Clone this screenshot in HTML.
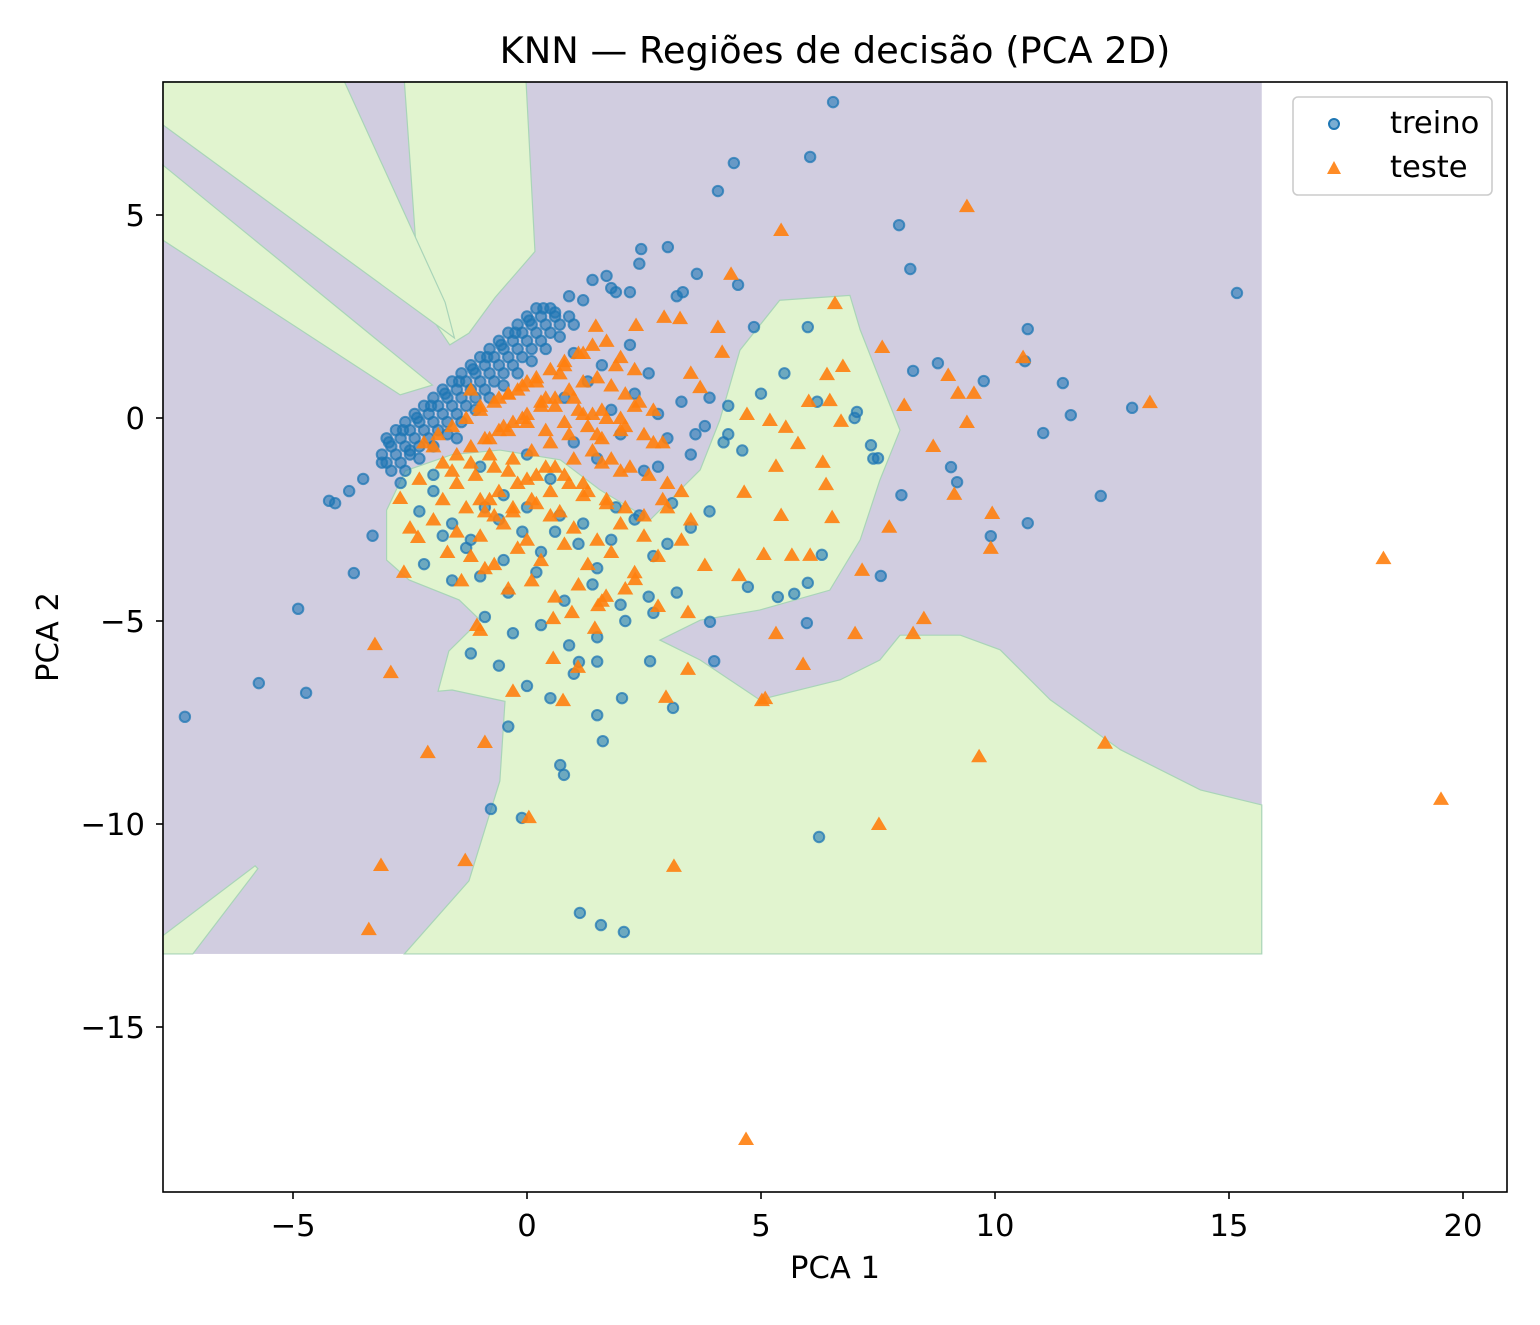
<!DOCTYPE html>
<html><head><meta charset="utf-8"><style>
body{margin:0;background:#fff;}
svg text{font-family:"DejaVu Sans","Liberation Sans",sans-serif;fill:#000;}
</style></head><body>
<svg id="chart" width="1540" height="1320" viewBox="0 0 1540 1320" xmlns="http://www.w3.org/2000/svg">
<rect x="0" y="0" width="1540" height="1320" fill="#fff"/>
<text x="835" y="63" style="font-size:36.8px" text-anchor="middle">KNN — Regiões de decisão (PCA 2D)</text>
<g id="regions"></g>
<g id="ptsTrain"></g>
<g id="ptsTest"></g>
<rect x="163" y="82" width="1344" height="1110" fill="none" stroke="#000" stroke-width="1.6"/>
<g id="xticks"></g>
<g id="yticks"></g>
<text x="835" y="1278" style="font-size:30.6px" text-anchor="middle">PCA 1</text>
<text x="58" y="637" style="font-size:30.6px" text-anchor="middle" transform="rotate(-90 58 637)">PCA 2</text>
<g>
<rect x="1293" y="97" width="199" height="98" rx="5" fill="#fff" fill-opacity="0.85" stroke="#ccc" stroke-width="1.6"/>
<g>
<circle cx="1334" cy="124" r="5" fill="#1f77b4" fill-opacity="0.6" stroke="#1f77b4" stroke-width="2"/>
<text x="1390" y="133" style="font-size:30.6px">treino</text></g>
<g>
<polygon points="1334,161 1341,174 1327,174" fill="#ff7f0e" fill-opacity="0.9"/>
<text x="1390" y="177" style="font-size:30.6px">teste</text></g>
</g>
</svg>
<script>
const xTicks=[-5,0,5,10,15,20];
const yTicks=[5,0,-5,-10,-15];
const gridX=[-7.78,15.7];
const gridY=[-13.2,8.28];
const greenRegions=[
[[-2.62,8.28],[-0.02,8.28],[0.17,4.1],[-0.68,2.97],[-1.24,2.09],[-1.65,1.8],[-2.29,2.9]],
[[-7.78,8.28],[-3.9,8.28],[-1.75,2.85],[-1.55,1.97],[-7.78,7.22]],
[[-7.78,6.23],[-2.02,0.81],[-2.71,0.57],[-7.78,4.38]],
[[-2.62,-13.2],[-1.24,-11.4],[-0.58,-8.94],[-0.47,-6.98],[-1.6,-6.7],[-1.9,-6.73],[-1.67,-5.74],[-1.0,-4.98],[-1.45,-4.48],[-2.52,-3.99],[-3.0,-3.5],[-3.0,-2.27],[-2.6,-1.3],[-1.6,-0.9],[-0.58,-0.79],[0.71,-1.03],[1.56,-1.77],[2.63,-2.51],[3.7,-1.28],[4.12,-0.05],[4.55,1.67],[5.4,2.9],[6.9,3.02],[7.12,2.17],[7.54,0.94],[7.97,-0.3],[7.54,-1.53],[7.12,-3.0],[6.47,-4.24],[4.97,-4.73],[3.7,-4.98],[2.84,-5.47],[3.7,-5.96],[4.97,-6.94],[6.69,-6.45],[7.54,-5.96],[7.97,-5.35],[9.26,-5.35],[10.11,-5.71],[11.18,-6.94],[12.68,-8.17],[14.39,-9.16],[15.7,-9.53],[15.7,-13.2]],
[[-7.78,-13.2],[-7.78,-12.75],[-5.81,-11.03],[-5.75,-11.1],[-7.14,-13.2]]
];
const trainX=[6.54,4.42,4.08,6.05,7.95,8.19,15.17,10.7,10.64,8.25,8.78,9.76,11.45,11.62,12.93,11.03,12.26,10.7,9.91,9.06,9.19,7.56,7.5,-4.89,-5.73,-4.72,-7.31,-3.7,-4.23,6.24,1.13,1.58,2.07,-0.77,-0.11,0.71,0.79,1.62,1.5,3.12,2.03,1.11,2.63,5.98,6.0,6.3,5.71,5.36,4.72,4.0,3.91,7.35,7.05,6.0,4.85,3.63,3.01,2.44,4.51,3.33,
-3.0,-2.8,-2.6,-2.4,-2.2,-2.0,-1.8,-1.6,-1.4,-1.2,-1.0,-0.8,-0.6,-0.4,-0.2,0.0,0.2,
-3.1,-2.9,-2.7,-2.5,-2.3,-2.1,-1.9,-1.7,-1.5,-1.3,-1.1,-0.9,-0.7,-0.5,-0.3,-0.1,0.1,0.3,0.5,
-3.0,-2.8,-2.6,-2.4,-2.2,-2.0,-1.8,-1.6,-1.4,-1.2,-1.0,-0.8,-0.6,-0.4,-0.2,0.0,0.2,0.4,0.6,
-2.9,-2.7,-2.5,-2.3,-2.1,-1.9,-1.7,-1.5,-1.3,-1.1,-0.9,-0.7,-0.5,-0.3,-0.1,0.1,0.3,0.5,0.7,0.9,
-2.6,-2.3,-2.0,-1.7,-1.4,-1.1,-0.8,-0.5,-0.2,0.1,0.4,0.7,1.0,
-2.95,-2.65,-2.35,-2.05,-1.75,-1.45,-1.15,-0.85,-0.55,-0.25,0.05,0.35,
-3.5,-3.8,-4.1,-3.3,-3.1,-2.7,-2.3,-2.0,-1.6,-1.3,-0.9,-0.5,-0.1,0.3,0.7,1.1,1.5,1.9,2.3,2.7,3.1,3.5,3.9,-2.5,-2.0,-1.5,-1.0,-0.5,0.0,0.5,1.0,1.5,2.0,2.5,3.0,3.5,-2.2,-1.6,-1.0,-0.4,0.2,0.8,1.4,2.0,2.6,3.2,-1.8,-1.2,-0.6,0.0,0.6,1.2,1.8,2.4,3.0,-0.9,-0.3,0.3,0.9,1.5,2.1,2.7,0.8,1.3,1.8,2.3,2.8,3.3,3.8,4.3,1.0,1.6,2.2,2.6,0.6,1.2,1.9,-0.6,0.0,0.5,1.0,1.5,-1.2,-0.4,2.8,3.6,4.2,4.6,5.0,5.5,6.2,7.0,7.4,8.0,1.4,1.8,2.2,0.9,1.7,2.4,3.2,3.9,4.3];
const trainY=[7.78,6.28,5.59,6.43,4.75,3.67,3.08,2.19,1.4,1.16,1.35,0.91,0.86,0.07,0.25,-0.37,-1.92,-2.59,-2.91,-1.21,-1.58,-3.89,-0.99,-4.7,-6.53,-6.77,-7.36,-3.82,-2.04,-10.32,-12.19,-12.49,-12.66,-9.63,-9.85,-8.55,-8.79,-7.96,-7.32,-7.14,-6.9,-6.01,-5.99,-5.05,-4.06,-3.37,-4.33,-4.41,-4.16,-5.99,-5.02,-0.67,0.15,2.24,2.24,3.55,4.21,4.16,3.28,3.1,
-0.5,-0.3,-0.1,0.1,0.3,0.5,0.7,0.9,1.1,1.3,1.5,1.7,1.9,2.1,2.3,2.5,2.7,
-0.9,-0.7,-0.5,-0.3,-0.1,0.1,0.3,0.5,0.7,0.9,1.1,1.3,1.5,1.7,1.9,2.1,2.3,2.5,2.7,
-1.1,-0.9,-0.7,-0.5,-0.3,-0.1,0.1,0.3,0.5,0.7,0.9,1.1,1.3,1.5,1.7,1.9,2.1,2.3,2.5,
-1.3,-1.1,-0.9,-0.7,-0.5,-0.3,-0.1,0.1,0.3,0.5,0.7,0.9,1.1,1.3,1.5,1.7,1.9,2.1,2.3,2.5,
-1.3,-1.0,-0.7,-0.4,-0.1,0.2,0.5,0.8,1.1,1.4,1.7,2.0,2.3,
-0.6,-0.3,0.0,0.3,0.6,0.9,1.2,1.5,1.8,2.1,2.4,2.7,
-1.5,-1.8,-2.1,-2.9,-1.1,-1.6,-2.3,-1.4,-2.6,-3.2,-2.2,-3.5,-2.8,-3.3,-2.4,-3.1,-3.7,-2.2,-2.5,-3.4,-2.1,-2.7,-2.3,-0.8,-1.8,-0.5,-1.2,-1.9,-0.9,-1.5,-0.6,-1.0,-0.4,-1.3,-0.5,-0.9,-3.6,-4.0,-3.9,-4.3,-3.8,-4.5,-4.1,-4.6,-4.4,-4.3,-2.9,-3.0,-2.5,-2.2,-2.8,-2.6,-3.0,-2.4,-3.1,-4.9,-5.3,-5.1,-5.6,-5.4,-5.0,-4.8,0.5,0.9,0.2,0.6,0.1,0.4,-0.2,0.3,1.6,1.3,1.8,1.1,2.6,2.9,3.1,-6.1,-6.6,-6.9,-6.3,-6.0,-5.8,-7.6,-1.2,-0.4,-0.6,-0.8,0.6,1.1,0.4,0.0,-1.0,-1.9,3.4,3.2,3.1,3.0,3.5,3.8,3.0,0.5,-0.4];
const testX=[9.4,5.43,4.36,6.58,4.08,7.59,10.6,9.0,9.21,9.55,13.31,8.06,9.4,8.68,9.13,9.94,9.91,7.74,7.16,18.3,19.53,8.48,8.25,7.01,5.9,5.32,5.09,9.66,12.35,7.52,3.14,4.68,-3.38,-3.12,-1.32,-2.12,-0.9,-3.25,-2.91,0.04,-0.3,0.77,3.44,2.97,5.02,6.71,6.47,6.41,6.75,6.02,5.53,5.79,5.32,6.32,6.39,6.52,5.43,4.64,4.7,5.19,3.5,4.17,3.7,3.27,2.93,1.47,2.33,5.66,5.06,4.53,6.05,3.8,3.44,2.8,2.31,1.52,1.45,1.69,0.96,0.56,-1.07,-1.0,-2.71,-2.33,-2.63,1.09,0.56,
-2.2,-1.9,-1.6,-1.3,-1.0,-0.7,-0.4,-0.1,0.2,0.5,0.8,1.1,1.4,1.7,2.0,2.3,-1.8,-1.5,-1.2,-0.9,-0.6,-0.3,0.0,0.3,0.6,0.9,1.2,1.5,1.8,2.1,2.4,2.7,-1.5,-1.1,-0.7,-0.3,0.1,0.5,0.9,1.3,1.7,2.1,2.5,2.9,-1.0,-0.6,-0.2,0.2,0.6,1.0,1.4,1.8,2.2,2.6,3.0,-0.7,-0.3,0.1,0.5,0.9,1.3,1.7,2.1,2.5,2.9,3.3,-0.4,0.0,0.4,0.8,1.2,1.6,2.0,-2.5,-2.0,-1.5,-1.0,-0.5,0.0,0.5,1.0,1.5,2.0,2.5,3.0,3.5,-1.7,-1.2,-0.7,-0.2,0.3,0.8,1.3,1.8,2.3,2.8,3.3,-0.9,-0.4,0.1,0.6,1.1,1.6,2.1,
-1.4,-1.0,-0.6,-0.2,0.2,0.6,1.0,1.4,-1.2,-0.8,-0.4,0.0,0.4,0.8,1.2,1.6,2.0,-2.0,-1.6,-1.2,-0.8,-0.4,0.0,0.4,0.8,1.2,1.6,2.0,-2.3,-1.8,-1.3,-0.8,-0.3,0.2,0.7,1.2,1.7,-0.9,-0.5,-0.1,0.3,0.7,1.1,1.5,1.9,2.3,2.7];
const testY=[5.22,4.63,3.55,2.83,2.24,1.75,1.5,1.06,0.62,0.62,0.39,0.32,-0.1,-0.69,-1.87,-2.34,-3.2,-2.68,-3.74,-3.45,-9.38,-4.93,-5.3,-5.3,-6.06,-5.3,-6.9,-8.33,-8.0,-10.0,-11.03,-17.76,-12.59,-11.01,-10.89,-8.23,-7.98,-5.57,-6.26,-9.83,-6.72,-6.95,-6.18,-6.87,-6.95,-0.07,0.44,1.08,1.28,0.42,-0.22,-0.62,-1.18,-1.08,-1.63,-2.44,-2.39,-1.82,0.1,-0.05,1.11,1.63,0.76,2.46,2.49,2.27,2.29,-3.37,-3.35,-3.87,-3.37,-3.62,-4.78,-4.63,-3.97,-4.61,-5.17,-4.38,-4.78,-4.93,-5.1,-5.22,-1.97,-2.93,-3.79,-6.13,-5.91,
-0.6,-0.4,-0.2,0.0,0.2,0.4,0.6,0.8,1.0,1.2,1.4,1.6,1.8,1.9,1.5,1.2,-1.1,-0.9,-0.7,-0.5,-0.3,-0.1,0.1,0.3,0.5,0.7,0.9,1.0,0.8,0.6,0.4,0.2,-1.6,-1.4,-1.2,-1.0,-0.8,-0.6,-0.4,-0.2,0.0,-0.2,-0.4,-0.6,-2.0,-1.8,-1.6,-1.4,-1.2,-1.0,-0.8,-1.0,-1.2,-1.4,-1.6,-2.4,-2.2,-2.0,-1.8,-1.6,-1.8,-2.0,-2.2,-2.4,-2.0,-1.8,0.6,0.9,0.5,1.3,1.6,0.2,0.0,-2.7,-2.5,-2.8,-2.9,-2.6,-3.0,-2.4,-2.7,-3.0,-2.6,-2.9,-2.2,-2.5,-3.3,-3.4,-3.6,-3.2,-3.5,-3.1,-3.6,-3.3,-3.8,-3.4,-3.0,-3.7,-4.2,-4.0,-4.4,-4.1,-4.5,-4.2,-4.0,
0.3,0.5,0.7,0.9,0.3,0.5,0.1,0.7,-0.5,-0.3,-0.1,-0.3,-0.1,0.1,-0.5,-0.3,-0.7,-1.3,-1.1,-0.9,-1.3,-1.5,-1.2,-1.4,-1.6,-1.1,-1.3,-1.5,-2.0,-2.2,-2.0,-2.3,-2.1,-2.3,-1.9,-2.1,-2.3,-0.2,0.0,0.4,1.1,0.2,-0.4,1.3,0.3,-0.6,-1.0];

const X0=527,XS=46.8,Y0=418,YS=40.6;
const sx=v=>X0+v*XS, sy=v=>Y0-v*YS;
const NS='http://www.w3.org/2000/svg';
function mk(tag,attrs,parent){const e=document.createElementNS(NS,tag);for(const k in attrs)e.setAttribute(k,attrs[k]);parent.appendChild(e);return e;}

const reg=document.getElementById('regions');
const bg=mk('rect',{x:sx(gridX[0]),y:sy(gridY[1]),width:sx(gridX[1])-sx(gridX[0]),height:sy(gridY[0])-sy(gridY[1]),fill:'#d1cde0'},reg);


greenRegions.forEach(poly=>{
  const p=mk('polygon',{points:poly.map(q=>sx(q[0])+','+sy(q[1])).join(' '),fill:'#e1f4cf',stroke:'#a9d4b8','stroke-width':1.2},reg);
  
  
});

const gt=document.getElementById('ptsTrain');
trainX.forEach((x,i)=>{
  const c=mk('circle',{cx:sx(x),cy:sy(trainY[i]),r:5.2,fill:'#1f77b4','fill-opacity':0.6,stroke:'#1f77b4','stroke-opacity':0.75,'stroke-width':2},gt);
  
  
});
const gs=document.getElementById('ptsTest');
testX.forEach((x,i)=>{
  const cx=sx(x),cy=sy(testY[i]);
  const t=mk('polygon',{points:`${cx},${cy-7.5} ${cx+8},${cy+6} ${cx-8},${cy+6}`,fill:'#ff7f0e','fill-opacity':0.9},gs);
  
  
});

const gx=document.getElementById('xticks');
xTicks.forEach(v=>{
  const l=mk('line',{x1:sx(v),x2:sx(v),y1:1192,y2:1199,stroke:'#000','stroke-width':1.6},gx);
  
  
  const t=mk('text',{x:sx(v),y:1236,style:'font-size:30.6px','text-anchor':'middle'},gx);
  t.textContent=v<0?'\u2212'+(-v):String(v);
  
  
});
const gy=document.getElementById('yticks');
yTicks.forEach(v=>{
  const l=mk('line',{x1:156,x2:163,y1:sy(v),y2:sy(v),stroke:'#000','stroke-width':1.6},gy);
  
  
  const t=mk('text',{x:145,y:sy(v)+11,style:'font-size:30.6px','text-anchor':'end'},gy);
  t.textContent=v<0?'\u2212'+(-v):String(v);
  
  
});
</script>
</body></html>
